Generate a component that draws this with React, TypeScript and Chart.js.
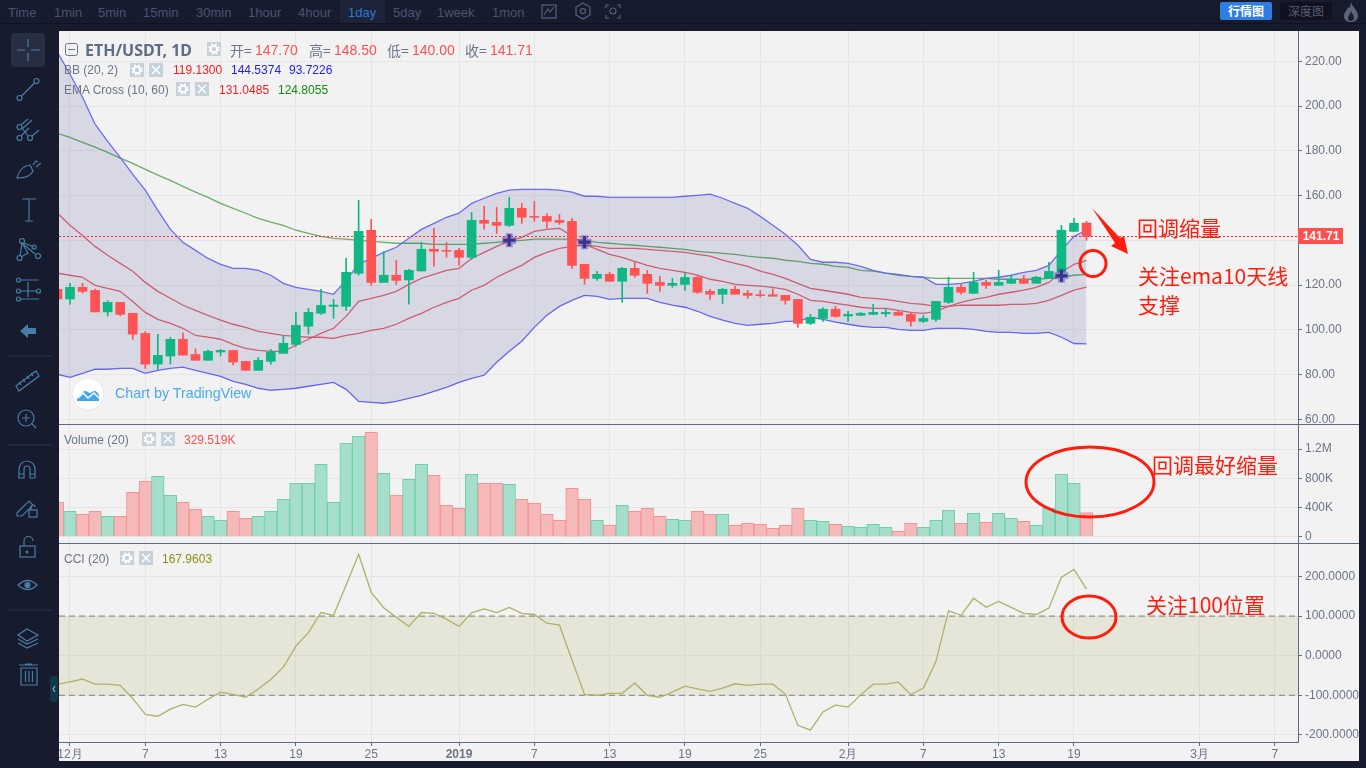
import React, { useEffect, useRef } from "react";
import { Chart, registerables } from "chart.js";

Chart.register(...registerables);

const days = [-1,0,1,2,3,4,5,6,7,8,9,10,11,12,13,14,15,16,17,18,19,20,21,22,23,24,25,26,27,28,29,30,31,32,33,34,35,36,37,38,39,40,41,42,43,44,45,46,47,48,49,50,51,52,53,54,55,56,57,58,59,60,61,62,63,64,65,66,67,68,69,70,71,72,73,74,75,76,77,78,79,80,81];
const opens = [118.1,113.8,119,117.6,108,112.3,107.4,98.4,84.7,88.3,95.75,89,86.4,90.1,90.8,85.9,81.9,85.9,89.5,93.5,101.6,107.4,110.5,110.5,125.25,144.5,121.2,124.4,122.3,126.3,136,135.5,135.5,132.4,148.9,148,146.7,154.3,150.7,150.7,148.9,148.5,129.3,123,124.8,121.7,127.5,124.8,121.2,119.9,120.3,123.4,117.2,115.9,118.1,116.3,115.7,115.7,115.4,113.6,102.9,105.1,109.2,106.2,106.5,106.9,107.2,107.8,106.9,103.8,104.7,112.3,119,116.3,121.2,119.9,120.8,122.4,120.8,122.9,125.7,144,147.7];
const closes = [113.8,119,117.2,108,112.3,106.9,98.1,84.7,88.6,95.75,88.7,86.4,90.4,90.8,85.6,81.9,86.4,90.1,94,102,107.8,110.9,111.1,125.7,144,121.2,124.4,122.1,126.6,136,135.1,135.1,132.4,148.9,147.6,146.7,154.3,150.3,150.3,148.5,148,128.8,123,124.8,121.7,127.5,124.4,120.8,119.9,120.8,123.4,116.8,115.9,118.1,115.9,115.4,115.3,115,113.2,102.9,105.6,109.2,106,106.9,107.4,107.8,107.8,106.5,103.8,105.1,112.7,119,116.8,121.2,119.9,121.2,122.6,120.8,123.5,126.1,144.5,147.6,141.71];
const highs = [118.5,120.8,120.8,118.2,113,112.3,107.4,99.2,98,96.6,98.7,91.6,91.1,91.3,90.8,85.9,87.7,91.3,97.1,107.8,109.6,118.1,113.6,132,157.9,149.4,135,131,127,139.1,145.4,139.1,136.4,152.5,155.2,154.7,159.2,156.5,157.4,152,151.6,149.8,129.3,126.1,125.7,127.9,130.2,126.6,123.9,123,125.2,124.3,118.1,118.6,119.4,117.7,117.6,118.4,115.4,113.6,106.9,110,110.5,108.3,107.8,111.4,109.6,108.3,107.8,106.5,112.7,123.5,120.3,125.7,122.1,126.6,124.4,124.4,123.9,130.2,146.7,149.8,148.5];
const lows = [113.5,111.4,116.5,108,106.2,106.2,95.75,82.8,82.3,84.7,88.7,86.4,86.4,88.3,84.3,81.9,81.9,84.6,89.5,92.6,98,106.9,105.1,108.7,124.4,119.9,121.2,120.3,111.5,126.3,128.4,132.4,128.8,131.5,145,143.1,146.2,147.6,148.5,145.4,147.1,127.5,120.3,122.1,121.7,112.3,123.5,116.3,117.2,119,117.6,116.3,113.6,111.8,115.9,114.1,114.7,115,111.4,101.1,102.4,103.8,105.6,103.8,106.3,106.9,106,106.5,101.6,103.3,103.8,111.8,115.9,116.3,118.5,119.9,120.6,120.6,120.8,122.9,121.7,144,140];
const bbUpper = [224,214.2,203.9,191.9,184.2,177.1,169.5,162.4,153.4,144.9,139.1,135.5,131.9,129.3,127.5,127.5,126.6,124.4,120.8,119,118.1,117.2,115.9,122.1,129.3,131.9,134.6,136.9,140.9,144.9,147.6,150.3,152.1,156.5,158.8,161,162.4,162.8,162.8,162.8,162.4,161.5,159.7,159.7,159.2,159.2,159.2,159.2,159.2,159.2,159.7,160.1,160.6,158.8,156.5,154.3,150.7,146.7,142.7,137.8,131.5,130.2,130.2,129.7,128.4,126.6,125.3,124.8,123.9,123.5,120.3,120.3,120.8,121.7,123,123.5,124.4,125.7,126.6,128.8,135.5,141.8,144.5];
const bbLower = [80.1,78.8,80.6,82.4,82.4,82.8,82.8,80.6,81.9,82.8,83.3,81.9,80.6,79.2,77,75.6,73.9,73,73.4,73.9,74.8,75.6,76.5,73.4,68,67.6,67.2,68,69.4,70.7,72.5,74.3,76.5,78.3,79.7,85.5,90.4,94.9,101.1,106.5,110.5,113.2,115.4,115,113.6,114.1,114.1,114.1,112.3,111,110.1,108.3,106,104.3,102.9,102,102.5,102.9,103.8,103.8,105.6,104.7,103.4,102.5,101.6,101.1,101.1,100.2,99.8,99.8,100.7,100.7,100.7,100.2,99.3,98.9,98.9,98.4,98.4,98.9,96.7,93.9,93.7];
const bbBasis = [152.1,146.7,142.2,137.3,133.3,129.7,126.2,121.2,117.2,114.1,111,108.7,106.5,104.3,102.5,101.1,99.3,98.4,97.5,97.1,96.7,96.7,96.2,97.5,98.4,99.8,100.7,102.5,105.1,107.4,110.1,112.3,114.1,117.7,119.9,123.5,126.2,128.8,132.4,134.6,136.4,137.3,137.8,137.3,136.4,136.4,136.4,136,135.5,135.1,134.6,133.7,132.9,131.1,129.7,128.4,126.2,124.8,123,120.8,118.5,117.7,116.8,115.9,114.5,114.1,113.6,112.7,111.8,111.4,110.5,110.5,111,111,111,111,111.4,111.4,111.8,113.2,115.4,117.7,119.13];
const ema10 = [125.3,124.4,123.5,119.9,118.5,117.2,112.7,107.8,104.7,102.9,100.7,97.5,96.7,95.8,93.5,91.7,90.8,90.4,90.4,93.1,95.8,98.4,100.7,106,112.7,114.1,115.4,117.2,120.3,123,124.8,126.6,127.5,131.9,134.6,137.3,139.6,141.3,144,144.9,145.4,141.8,138.2,136,133.7,132.4,130.6,128.8,127.5,126.6,125.7,124.4,122.6,121.7,120.3,119.9,119.5,119,118.1,115.9,113.2,112.7,111.8,111,110.1,109.6,109.6,108.7,107.8,107.4,108.3,110.5,112.3,113.6,114.5,115.9,116.8,117.7,119,121.2,125.7,129.3,131.05];
const ema60 = [187.8,186,183.8,181.6,179.3,176.7,174.4,171.7,169.1,166.8,164.1,161.5,159.2,156.5,154.3,152.1,149.8,148.1,146.7,144.5,143.1,141.8,140.9,140.5,140,139.6,139.1,138.7,138.7,138.7,138.2,138.2,138.2,138.2,138.7,139.1,139.6,140,140.5,140.5,140.5,140.5,140,139.1,138.7,138.2,137.8,137.3,136.9,136.4,136,135.1,134.6,134.2,133.7,132.9,132.4,132,131.1,130.6,129.7,129.3,128.4,127.9,126.6,126.2,125.3,124.4,123.9,123.5,123,123,123,123,123,122.6,122.6,122.6,122.6,123,123.5,124.4,124.8];
const volumes = [470,347,306,347,279,279,607,758,826,566,470,374,279,224,347,251,279,347,511,731,731,991,470,1278,1374,1429,868,566,785,991,840,429,388,854,731,731,717,511,457,306,224,662,511,224,155,429,347,388,279,237,224,347,306,306,155,183,169,114,155,388,224,210,169,142,128,169,128,73,183,128,224,361,183,320,196,320,251,210,155,388,854,731,329.5];
const cci = [-72,-66,-59,-72,-72,-75,-108,-148,-153,-135,-123,-130,-110,-92,-98,-105,-84,-60,-29,24,58,109,102,178,256,160,121,97,74,109,107,92,74,108,118,109,122,107,104,82,77,-11,-98,-100,-95,-95,-69,-100,-105,-92,-77,-84,-90,-82,-71,-75,-72,-72,-97,-176,-188,-142,-125,-130,-99,-72,-72,-67,-98,-82,-15,113,102,145,122,137,122,107,104,120,198,218,167.96];
const crossDays = [35, 41, 79];
const crossValues = [140, 139.1, 124.2];
const lastPrice = 141.71;
const cciBands = [100, -100];
const tickDays = [0, 6, 12, 18, 24, 31, 37, 43, 49, 55, 62, 68, 74, 80, 90, 96];
const tickLabels = ["12月", "7", "13", "19", "25", "2019", "7", "13", "19", "25", "2月", "7", "13", "19", "3月", "7"];
const priceTicks = [60, 80, 100, 120, 140, 160, 180, 200, 220];
const volumeTicks = [0, 400, 800, 1200];
const volumeTickLabels = ["0", "400K", "800K", "1.2M"];
const cciTicks = [-200, -100, 0, 100, 200];
const toolbarItems: [string, number][] = [["Time", 8], ["1min", 54], ["5min", 98], ["15min", 143], ["30min", 196], ["1hour", 248], ["4hour", 298], ["1day", 348], ["5day", 393], ["1week", 437], ["1mon", 492]];

const X_MIN = -0.876;
const X_MAX = 97.85;
const UP = "#10b783";
const DOWN = "#ff5252";
const GRID = "#e5e5e8";
const AXIS = "#5d6b85";
const TICK = "#6c7489";
const SANS = '"Liberation Sans", Arial, sans-serif';
const CJK = '"Noto Sans CJK SC", sans-serif';

const up = (i: number) => closes[i] >= opens[i];

function xScale(showLabels: boolean) {
  return {
    type: "linear",
    offset: false,
    min: X_MIN,
    max: X_MAX,
    bounds: "data",
    afterBuildTicks: (s: any) => { s.ticks = tickDays.map((value) => ({ value })); },
    afterFit: (s: any) => { s.height = showLabels ? 19 : 0; s.paddingLeft = 0; s.paddingRight = 0; },
    grid: { color: GRID, drawTicks: showLabels, tickLength: 4, tickColor: AXIS, offset: false },
    border: showLabels ? { display: true, color: AXIS } : { display: false },
    ticks: {
      display: showLabels,
      autoSkip: false,
      maxRotation: 0,
      padding: 1,
      color: TICK,
      font: (c: any) => ({ family: SANS, size: 12, weight: tickLabels[c.index] === "2019" ? "bold" : "normal" }),
      callback: (_v: any, i: number) => tickLabels[i],
    },
  };
}

function yScale(min: number, max: number, ticks: number[], label: (v: number) => string) {
  return {
    position: "right",
    min,
    max,
    bounds: "data",
    afterBuildTicks: (s: any) => { s.ticks = ticks.map((value) => ({ value })); },
    afterFit: (s: any) => { s.width = 61; s.paddingTop = 0; s.paddingBottom = 0; },
    grid: { color: GRID, tickLength: 4, tickColor: AXIS, drawTicks: true },
    border: { display: true, color: AXIS },
    ticks: { autoSkip: false, padding: 3, color: TICK, font: { family: SANS, size: 12 }, callback: (v: number) => label(v) },
  };
}

const line = (label: string, values: number[], color: string, extra: any = {}) => ({
  type: "line",
  label,
  data: days.map((x, i) => ({ x, y: values[i] })),
  borderColor: color,
  borderWidth: 1.3,
  pointRadius: 0,
  tension: 0,
  fill: false,
  order: 5,
  ...extra,
});

const base = (scales: any, plugins: any[] = []) => ({
  options: {
    responsive: false,
    animation: false,
    devicePixelRatio: 1,
    events: [],
    layout: { padding: 0, autoPadding: false },
    plugins: { legend: { display: false }, tooltip: { enabled: false } },
    scales,
  },
  plugins,
});

const priceTag = {
  id: "priceTag",
  afterDraw(chart: any) {
    const { ctx, scales } = chart;
    const y = scales.y.getPixelForValue(lastPrice);
    const left = chart.chartArea.right;
    ctx.save();
    ctx.fillStyle = "#ff5050";
    ctx.fillRect(left, Math.round(y - 8), 45, 16);
    ctx.fillStyle = "#ffffff";
    ctx.font = `bold 12px ${SANS}`;
    ctx.textAlign = "center";
    ctx.textBaseline = "middle";
    ctx.fillText(lastPrice.toFixed(2), left + 23, y + 0.5);
    ctx.restore();
  },
};

function makeMain(canvas: HTMLCanvasElement) {
  return new Chart(canvas, {
    type: "bar",
    data: {
      datasets: [
        { type: "line", label: "cross halo", data: crossDays.map((x, i) => ({ x, y: crossValues[i] })), showLine: false, pointStyle: "cross", pointRadius: 7, borderWidth: 7, pointBorderColor: "rgba(70,60,170,0.45)", order: 0 },
        { type: "line", label: "cross", data: crossDays.map((x, i) => ({ x, y: crossValues[i] })), showLine: false, pointStyle: "cross", pointRadius: 6, borderWidth: 3, pointBorderColor: "#3a3190", order: -1 },
        { type: "line", label: "last", data: [{ x: X_MIN, y: lastPrice }, { x: X_MAX, y: lastPrice }], borderColor: "#ff2a2a", borderWidth: 1, borderDash: [2, 2], pointRadius: 0, order: 3 },
        { type: "bar", label: "body", grouped: false, barThickness: 9, data: days.map((x, i) => ({ x, y: [opens[i], closes[i]] })), backgroundColor: days.map((_, i) => (up(i) ? UP : DOWN)), order: 1 },
        { type: "bar", label: "wick", grouped: false, barThickness: 1, data: days.map((x, i) => ({ x, y: [lows[i], highs[i]] })), backgroundColor: days.map((_, i) => (up(i) ? UP : DOWN)), order: 2 },
        line("BB upper", bbUpper, "#6a6cf2", { fill: "+1", backgroundColor: "rgba(34,34,134,0.12)" }),
        line("BB lower", bbLower, "#6a6cf2"),
        line("BB basis", bbBasis, "#e5666f"),
        line("EMA 10", ema10, "#e5666f"),
        line("EMA 60", ema60, "#6aad6a"),
      ],
    },
    ...base({
      x: xScale(false),
      y: yScale(57.93, 233.53, priceTicks, (v) => (v === 140 ? "" : v.toFixed(2))),
    }, [priceTag]),
  } as any);
}

function makeVolume(canvas: HTMLCanvasElement) {
  return new Chart(canvas, {
    type: "bar",
    data: {
      datasets: [{
        label: "Volume",
        grouped: false,
        barThickness: 12.55,
        data: days.map((x, i) => ({ x, y: volumes[i] })),
        backgroundColor: days.map((_, i) => (up(i) ? "#a5dfcb" : "#f5b9b9")),
        borderColor: days.map((_, i) => (up(i) ? "#6ccfae" : "#f79292")),
        borderWidth: 1,
        borderSkipped: "bottom",
      }],
    },
    ...base({
      x: xScale(false),
      y: yScale(-86, 1530, volumeTicks, (v) => volumeTickLabels[volumeTicks.indexOf(v)]),
    }),
  } as any);
}

function makeCci(canvas: HTMLCanvasElement) {
  const band = (v: number, extra: any = {}) => ({
    type: "line",
    data: [{ x: X_MIN, y: v }, { x: X_MAX, y: v }],
    borderColor: "#7f7f78",
    borderWidth: 1,
    borderDash: [6, 4],
    pointRadius: 0,
    order: 3,
    ...extra,
  });
  return new Chart(canvas, {
    type: "line",
    data: {
      datasets: [
        line("CCI", cci, "#b0b067", { order: 1 }),
        band(cciBands[0], { fill: "+1", backgroundColor: "rgba(140,145,30,0.12)" }),
        band(cciBands[1]),
      ],
    },
    ...base({
      x: xScale(true),
      y: yScale(-218, 282, cciTicks, (v) => v.toFixed(4)),
    }),
  } as any);
}

function T({ x, y, c, s = 12, w = 400, f = SANS, children }: any) {
  return (
    <span style={{ position: "absolute", left: x, top: y, transform: "translateY(-50%)", color: c, fontSize: s, fontWeight: w, fontFamily: f, whiteSpace: "nowrap", lineHeight: 1 }}>
      {children}
    </span>
  );
}

function Gear({ x, y }: { x: number; y: number }) {
  return (
    <svg style={{ position: "absolute", left: x, top: y - 7 }} width="14" height="14">
      <rect width="14" height="14" fill="#c5d2dc" />
      <circle cx="7" cy="7" r="3.3" fill="none" stroke="#fff" strokeWidth="2" />
      <circle cx="7" cy="7" r="5" fill="none" stroke="#fff" strokeWidth="1.4" strokeDasharray="2 2" />
    </svg>
  );
}

function Cross({ x, y }: { x: number; y: number }) {
  return (
    <svg style={{ position: "absolute", left: x, top: y - 7 }} width="14" height="14">
      <rect width="14" height="14" fill="#c5d2dc" />
      <path d="M3 3 L11 11 M11 3 L3 11" stroke="#fff" strokeWidth="1.5" />
    </svg>
  );
}

function Sidebar() {
  const c = "#4a7da3";
  const p = { fill: "none", stroke: c, strokeWidth: 1.2 };
  return (
    <svg style={{ position: "absolute", left: 0, top: 24 }} width="59" height="700" viewBox="0 24 59 700">
      <rect x="11" y="33" width="34" height="34" rx="3" fill="#282e42" />
      <path d="M28 39 V47 M28 53 V61 M17 50 H25 M31 50 H40" {...p} />
      <g {...p}>
        <circle cx="19.5" cy="98" r="2.5" /><circle cx="36.5" cy="81" r="2.5" /><path d="M21.5 96 L34.5 83" />
        <circle cx="19.5" cy="127" r="2.5" /><circle cx="19.5" cy="138" r="2.5" /><circle cx="30" cy="138" r="2.5" />
        <path d="M21 125 L28 119 M22 129 L32 120 M21 136 L29 128 M22 128 L28 136 M32 136 L39 130" />
        <path d="M17 178 Q20 166 30 165 L33 171 Q30 178 17 178 Z M33 165 L36 161 L38 162 M36 167 L41 163" />
        <path d="M22 199 H36 M29 199 V221 M25 221 H33" />
        <circle cx="19.5" cy="258" r="2.5" /><circle cx="22" cy="241" r="2.5" /><circle cx="34" cy="247" r="2" /><circle cx="38" cy="256" r="2.5" />
        <path d="M20 256 L22 243 L35 254 M22 243 L28 253 L21 257 M34 247 L24 243" />
        <path d="M21 280 H39 M21 291 H36 M21 299 H39" /><circle cx="18.5" cy="280" r="2" /><circle cx="38.5" cy="291" r="2" /><circle cx="18.5" cy="291" r="2" /><circle cx="18.5" cy="299" r="2" />
        <path d="M28 282 V297" />
      </g>
      <path d="M20 331 L28 324 V328 H36 V334 H28 V338 Z" fill={c} />
      <path d="M8 356 H52 M8 445 H52 M8 610 H52" stroke="#24354d" strokeWidth="1" />
      <g {...p}>
        <path d="M16 386 L36 371 L39 376 L19 391 Z M21 385 L19 382 M25 382 L23 379 M29 379 L27 376 M33 376 L31 373" />
        <circle cx="26" cy="418" r="8" /><path d="M22 418 H30 M26 414 V422 M32 424 L36 428" />
        <path d="M19 478 V469 A7 7 0 0 1 35 469 V478 H30 V469 A3 3 0 0 0 24 469 V478 Z M19 474 H24 M30 474 H35" />
        <path d="M17 513 L29 501 L33 505 L22 516 L17 516 Z" /><rect x="29" y="510" width="8" height="7" /><path d="M31 510 V507 A2 2 0 0 1 35 507" />
        <rect x="20" y="546" width="15" height="11" /><path d="M24 546 V541 A4 4 0 0 1 33 541" /><circle cx="27" cy="552" r="0.8" fill={c} />
        <path d="M18 585 Q28 576 37 585 Q28 594 18 585 Z" /><circle cx="27.5" cy="585" r="2.5" fill={c} />
        <path d="M27 629 L38 635 L27 641 L18 635 Z M18 639 L27 644 L38 639 M18 643 L27 648 L38 643" />
        <path d="M21 668 H37 V685 H21 Z M19 665 H38 M25 664 H32 M25.5 671 V682 M29 671 V682 M32.5 671 V682" />
      </g>
      <rect x="50" y="676" width="8" height="26" rx="3" fill="#0f3a4a" />
      <path d="M55 686 L53 689 L55 692" fill="none" stroke="#8fb0c0" strokeWidth="1.2" />
    </svg>
  );
}

function Toolbar() {
  return (
    <>
      <div style={{ position: "absolute", left: 0, top: 23, width: 1366, height: 1, background: "#10131f" }} />
      <div style={{ position: "absolute", left: 340, top: 0, width: 45, height: 23, background: "#1d2438" }} />
      {toolbarItems.map(([label, x]) => (
        <T key={label} x={x} y={12} s={13} c={label === "1day" ? "#2a79d8" : "#4b5470"}>{label}</T>
      ))}
      <svg style={{ position: "absolute", left: 536, top: 0 }} width="90" height="23" fill="none" stroke="#59627c" strokeWidth="1.2">
        <rect x="6" y="5" width="14" height="13" /><path d="M8 15 L12 9 L14 12 L18 7" />
        <path d="M47 3 L54 7 V15 L47 19 L40 15 V7 Z" /><circle cx="47" cy="11" r="2.5" />
        <path d="M70 8 V5 H73 M81 5 H84 V8 M84 15 V18 H81 M73 18 H70 V15" /><circle cx="77" cy="11" r="3" />
      </svg>
      <div style={{ position: "absolute", left: 1220, top: 2, width: 52, height: 18, background: "#2f7de1", borderRadius: 2 }} />
      <T x={1228} y={11} s={12} w={700} c="#ffffff" f={CJK}>行情图</T>
      <div style={{ position: "absolute", left: 1280, top: 2, width: 52, height: 18, background: "#10131f", borderRadius: 2 }} />
      <T x={1288} y={11} s={12} c="#565c70" f={CJK}>深度图</T>
      <svg style={{ position: "absolute", left: 1343, top: 2 }} width="16" height="20">
        <path d="M8 0 C9 5 15 8 15 14 C15 18 11 20 8 20 C4 20 1 18 1 14 C1 10 4 9 5 5 C6 7 7 7 8 0 Z" fill="#5d6478" />
        <path d="M8 9 C9 12 11 13 11 16 C11 18 9 19 8 19 C6 19 5 18 5 16 C5 14 7 13 8 9 Z" fill="#1a1f31" />
      </svg>
    </>
  );
}

function Legends() {
  const lab = "#6b7689";
  const blue = "#2222ee";
  return (
    <>
      <svg style={{ position: "absolute", left: 65, top: 43 }} width="13" height="13" fill="none" stroke="#6b7689">
        <rect x="0.5" y="0.5" width="12" height="12" rx="2" /><path d="M3 6.5 H10" />
      </svg>
      <T x={85} y={50} s={16} w={700} c="#5f6c86" f='"Noto Sans", sans-serif'>ETH/USDT, 1D</T>
      <Gear x={207} y={49} />
      <T x={230} y={50} s={14} c={lab} f={CJK}>开=</T>
      <T x={255} y={50} s={14} c="#ff5050">147.70</T>
      <T x={309} y={50} s={14} c={lab} f={CJK}>高=</T>
      <T x={334} y={50} s={14} c="#ff5050">148.50</T>
      <T x={387} y={50} s={14} c={lab} f={CJK}>低=</T>
      <T x={412} y={50} s={14} c="#ff5050">140.00</T>
      <T x={465} y={50} s={14} c={lab} f={CJK}>收=</T>
      <T x={490} y={50} s={14} c="#ff5050">141.71</T>

      <T x={64} y={70} c={lab}>BB (20, 2)</T>
      <Gear x={130} y={70} /><Cross x={149} y={70} />
      <T x={173} y={70} c="#ee2222">119.1300</T>
      <T x={231} y={70} c={blue}>144.5374</T>
      <T x={289} y={70} c={blue}>93.7226</T>

      <T x={64} y={90} c={lab}>EMA Cross (10, 60)</T>
      <Gear x={176} y={89} /><Cross x={195} y={89} />
      <T x={219} y={90} c="#ee2222">131.0485</T>
      <T x={278} y={90} c="#118811">124.8055</T>

      <T x={64} y={440} c={lab}>Volume (20)</T>
      <Gear x={142} y={439} /><Cross x={161} y={439} />
      <T x={184} y={440} c="#ff5050">329.519K</T>

      <T x={64} y={559} c={lab}>CCI (20)</T>
      <Gear x={120} y={558} /><Cross x={139} y={558} />
      <T x={162} y={559} c="#8f8f10">167.9603</T>

      <svg style={{ position: "absolute", left: 71, top: 377 }} width="34" height="34">
        <circle cx="17" cy="17" r="16" fill="#ffffff" stroke="#e8e8e8" />
        <path d="M6 24 Q6 19 10 18 Q12 12 17 15 Q19 17 21 15 Q25 12 28 18 V24 Z" fill="#3ea8ef" />
        <path d="M7 21 L12 16 L17 21 L23 16 L28 21" fill="none" stroke="#fff" strokeWidth="1.6" />
      </svg>
      <T x={115} y={393} s={14.3} c="#4ba9f0">Chart by TradingView</T>
    </>
  );
}

function Marks() {
  const red = "#ff1c0c";
  return (
    <>
      <svg style={{ position: "absolute", left: 0, top: 0, pointerEvents: "none" }} width="1366" height="768" fill="none">
        <polygon points="1092,208 1120,238 1124,236 1128,254 1111,246 1115,243" fill={red} />
        <circle cx="1093" cy="263.5" r="13" stroke={red} strokeWidth="3" />
        <ellipse cx="1090" cy="482" rx="64" ry="35" stroke={red} strokeWidth="3" />
        <ellipse cx="1089" cy="617" rx="27" ry="21" stroke={red} strokeWidth="3" />
      </svg>
      <T x={1137} y={227} s={21} c={red} f={CJK}>回调缩量</T>
      <T x={1138} y={275} s={21} c={red} f={CJK}>关注ema10天线</T>
      <T x={1138} y={304} s={21} c={red} f={CJK}>支撑</T>
      <T x={1152} y={464} s={21} c={red} f={CJK}>回调最好缩量</T>
      <T x={1146} y={604} s={21} c={red} f={CJK}>关注100位置</T>
    </>
  );
}

export default function App() {
  const mainRef = useRef<HTMLCanvasElement>(null);
  const volRef = useRef<HTMLCanvasElement>(null);
  const cciRef = useRef<HTMLCanvasElement>(null);
  useEffect(() => {
    const charts = [makeMain(mainRef.current!), makeVolume(volRef.current!), makeCci(cciRef.current!)];
    return () => charts.forEach((c) => c.destroy());
  }, []);
  const pane = (top: number): React.CSSProperties => ({ position: "absolute", left: 59, top, display: "block" });
  return (
    <div style={{ position: "fixed", left: 0, top: 0, width: 1366, height: 768, overflow: "hidden", background: "#161b2e", fontFamily: SANS }}>
      <div style={{ position: "absolute", left: 59, top: 31, width: 1300, height: 730, background: "#f2f2f2" }} />
      <canvas ref={mainRef} width={1300} height={393} style={pane(31)} />
      <canvas ref={volRef} width={1300} height={118} style={pane(425)} />
      <canvas ref={cciRef} width={1300} height={217} style={pane(544)} />
      <div style={{ position: "absolute", left: 59, top: 424, width: 1300, height: 1, background: AXIS }} />
      <div style={{ position: "absolute", left: 59, top: 543, width: 1300, height: 1, background: AXIS }} />
      <Toolbar />
      <Sidebar />
      <Legends />
      <Marks />
    </div>
  );
}
